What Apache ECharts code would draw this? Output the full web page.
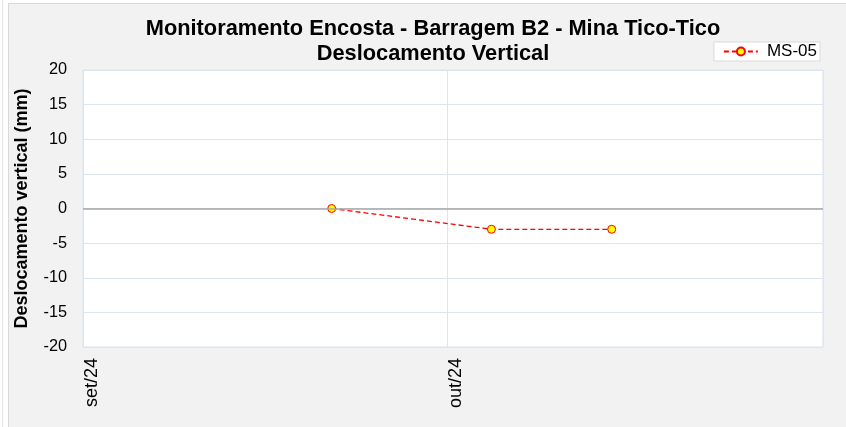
<!DOCTYPE html>
<html>
<head>
<meta charset="utf-8">
<script src="https://cdn.jsdelivr.net/npm/echarts@6/dist/echarts.min.js"></script>
<style>
  html, body { margin: 0; padding: 0; background: #fff; overflow: hidden; }
  #edge { position: absolute; left: 2px; top: 0; width: 1px; height: 427px; background: #e3e3e3; }
  #chart {
    position: absolute; left: 8px; top: 3px;
    width: 837px; height: 423px;
    border-left: 1px solid #d9d9d9; border-top: 1px solid #d9d9d9;
    background: #f2f2f2;
  }
</style>
</head>
<body>
<div id="edge"></div>
<div id="chart"></div>
<script>
// leituras (data, deslocamento em mm)
const dates = ['2024-09-21 12:00', '2024-10-04 16:00', '2024-10-14 14:00'];
const ms05 = [0, -3, -3];
const yTicks = [-20, 20, 5]; // min, max, passo
const monthNames = ['jan', 'fev', 'mar', 'abr', 'mai', 'jun', 'jul', 'ago', 'set', 'out', 'nov', 'dez'];

const chart = echarts.init(document.getElementById('chart'));

const seriesData = dates.map((d, i) => [d, ms05[i]]);

const option = {
  animation: false,
  textStyle: { fontFamily: 'Liberation Sans, Arial, sans-serif' },
  title: {
    text: 'Monitoramento Encosta - Barragem B2 - Mina Tico-Tico\nDeslocamento Vertical',
    left: 419,
    top: 7,
    textAlign: 'center',
    textStyle: { fontSize: 21.8, fontWeight: 'bold', color: '#000', lineHeight: 25 }
  },
  legend: {
    right: 26,
    top: 38,
    itemWidth: 34,
    itemHeight: 10,
    padding: [1, 3, 1, 9],
    backgroundColor: '#fff',
    borderColor: '#d9d9d9',
    borderWidth: 1,
    textStyle: { fontSize: 17, color: '#000', padding: [0, 0, 0, 4] },
    data: ['MS-05']
  },
  grid: {
    left: 74,
    right: 23,
    top: 66,
    bottom: 80,
    outerBoundsMode: 'none',
    containLabel: false,
    show: true,
    backgroundColor: '#fff',
    borderColor: '#dae3f0',
    borderWidth: 1
  },
  xAxis: {
    type: 'time',
    min: '2024-09-01',
    max: '2024-11-01',
    splitNumber: 2,
    minInterval: 28 * 24 * 3600 * 1000,
    axisLine: { show: false },
    axisTick: { show: false },
    splitLine: { show: true, lineStyle: { color: '#dce6f2', width: 1 } },
    axisLabel: {
      rotate: 90,
      fontSize: 18,
      color: '#000',
      margin: 11,
      verticalAlign: 'top',
      showMaxLabel: false,
      hideOverlap: false,
      formatter: function (value) {
        const d = new Date(value);
        return monthNames[d.getMonth()] + '/' + String(d.getFullYear()).slice(2);
      }
    }
  },
  yAxis: {
    type: 'value',
    min: yTicks[0],
    max: yTicks[1],
    interval: yTicks[2],
    name: 'Deslocamento vertical (mm)',
    nameLocation: 'middle',
    nameGap: 52,
    nameTextStyle: { fontSize: 18, fontWeight: 'bold', color: '#000' },
    axisLine: { show: false },
    axisTick: { show: false },
    splitLine: { show: true, lineStyle: { color: '#dce6f2', width: 1 } },
    axisLabel: { fontSize: 16.3, color: '#000', margin: 16 }
  },
  series: [
    {
      name: 'MS-05',
      type: 'line',
      data: seriesData,
      symbol: 'circle',
      symbolSize: 8,
      lineStyle: { color: '#ff0000', width: 1.3, type: [5, 3] },
      itemStyle: { color: '#ffff00', borderColor: '#ff0000', borderWidth: 1 },
      markLine: {
        silent: true,
        symbol: 'none',
        label: { show: false },
        lineStyle: { color: '#a6a6a6', width: 1.6, type: 'solid' },
        data: [{ yAxis: 0 }]
      }
    }
  ]
};

chart.setOption(option);
</script>
</body>
</html>
